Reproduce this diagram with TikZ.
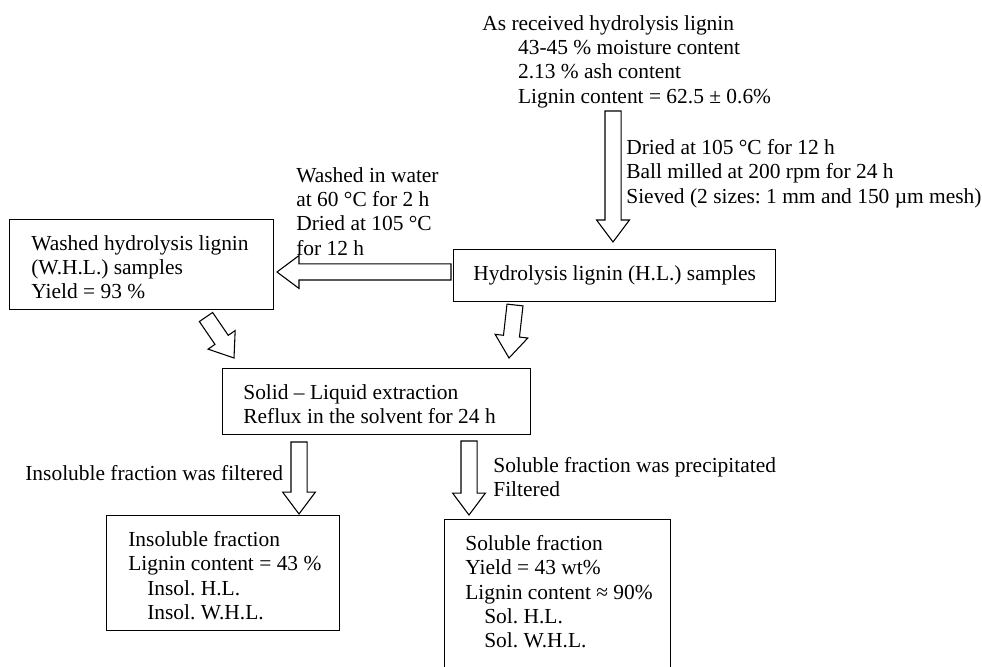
\documentclass[tikz,border=0pt]{standalone}
\usepackage{fontspec}
\setmainfont{Liberation Serif}
\usetikzlibrary{calc}

\begin{document}
\frenchspacing
\begin{tikzpicture}[x=0.56pt, y=-0.56pt]
\tikzset{boite/.style={draw, line width=0.75pt, anchor=north west, inner sep=0pt},
  texte/.style={font=\fontsize{12}{13.6}\selectfont, align=left, anchor=north west, inner sep=0pt},
  grossefleche/.style={draw, line width=0.6pt, line join=miter, to path={
    let \p1=(\tikztostart), \p2=(\tikztotarget), \n1={atan2(\y2-\y1,\x2-\x1)} in
    ($(\p1)+(\n1+90:4.5pt)$)
    -- ($(\p2)+(\n1+180:12.3pt)+(\n1+90:4.5pt)$)
    -- ($(\p2)+(\n1+180:12.3pt)+(\n1+90:9.2pt)$)
    -- (\p2)
    -- ($(\p2)+(\n1+180:12.3pt)+(\n1-90:9.2pt)$)
    -- ($(\p2)+(\n1+180:12.3pt)+(\n1-90:4.5pt)$)
    -- ($(\p1)+(\n1-90:4.5pt)$) -- cycle}}}
\useasboundingbox (0,0) rectangle (982,667);
\clip (0,0) rectangle (982,667);
\node[boite, minimum width=147.8pt, minimum height=50.4pt] (whl) at (9,219) {};
\node[boite, minimum width=180.3pt, minimum height=29.1pt, font=\fontsize{12}{13.6}\selectfont] (hl) at (453,249) {Hydrolysis lignin (H.L.) samples};
\node[boite, minimum width=172.5pt, minimum height=37pt] (sl) at (222,368) {};
\node[boite, minimum width=130.5pt, minimum height=64.4pt] (insol) at (106,515) {};
\node[boite, minimum width=126.6pt, minimum height=89.6pt] (sol) at (444,519) {};
\node[texte] (brut) at (482,15) {As received hydrolysis lignin\\
  \hspace*{20pt}43-45 \% moisture content\\
  \hspace*{20pt}2.13 \% ash content\\
  \hspace*{20pt}Lignin content = 62.5 ± 0.6\%};
\node[texte] (sechage) at (626,139) {Dried at 105 °C for 12 h\\
  Ball milled at 200 rpm for 24 h\\
  Sieved (2 sizes: 1 mm and 150 µm mesh)};
\node[texte] (lavage) at (296,167) {Washed in water\\at 60 °C for 2 h\\Dried at 105 °C\\for 12 h};
\node[texte] (whltxt) at (31,235) {Washed hydrolysis lignin\\(W.H.L.) samples\\Yield = 93 \%};
\node[texte] (sltxt) at (243,384) {Solid – Liquid extraction\\Reflux in the solvent for 24 h};
\node[texte] (filtre) at (25,465) {Insoluble fraction was filtered};
\node[texte] (precip) at (493,457) {Soluble fraction was precipitated\\Filtered};
\node[texte] (insoltxt) at (128,531) {Insoluble fraction\\Lignin content = 43 \%\\
  \hspace*{10.6pt}Insol. H.L.\\\hspace*{10.6pt}Insol. W.H.L.};
\node[texte] (soltxt) at (465,535) {Soluble fraction\\Yield = 43 wt\%\\Lignin content ≈ 90\%\\
  \hspace*{10.6pt}Sol. H.L.\\\hspace*{10.6pt}Sol. W.H.L.};
\coordinate (f1a) at (613,111); \coordinate (f1b) at (613,242);
\coordinate (f2a) at (451,272); \coordinate (f2b) at (277,272);
\coordinate (f3a) at (515,305); \coordinate (f3b) at (509,358);
\coordinate (f4a) at (206,317); \coordinate (f4b) at (234,358);
\coordinate (f5a) at (299,442); \coordinate (f5b) at (299,514);
\coordinate (f6a) at (469,441); \coordinate (f6b) at (469,515);
\draw[grossefleche] (f1a) to (f1b);
\draw[grossefleche] (f2a) to (f2b);
\draw[grossefleche] (f3a) to (f3b);
\draw[grossefleche] (f4a) to (f4b);
\draw[grossefleche] (f5a) to (f5b);
\draw[grossefleche] (f6a) to (f6b);
\end{tikzpicture}
\end{document}
